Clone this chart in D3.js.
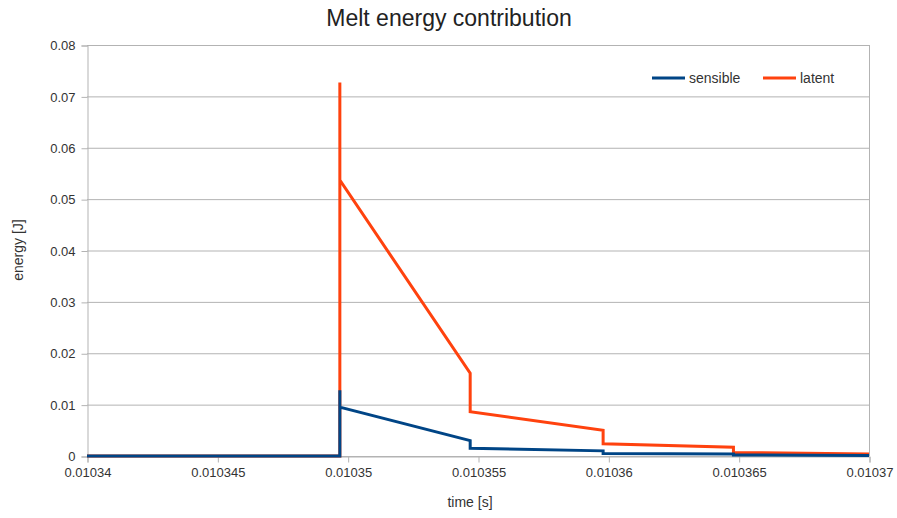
<!DOCTYPE html>
<html>
<head>
<meta charset="utf-8">
<script src="https://cdn.jsdelivr.net/npm/d3@7"></script>
<style>
  body { margin: 0; background: #fff; }
  svg { display: block; font-family: "Liberation Sans", Arial, sans-serif; }
</style>
</head>
<body>
<svg id="chart" width="897" height="518"></svg>
<script>
// Time samples (s); repeated times mark the step drops
const times = [0.01034, 0.0103497, 0.0103497, 0.0103497, 0.0103547, 0.0103547, 0.0103598, 0.0103598, 0.0103648, 0.0103648, 0.01037];
// Energy series (J)
const latent   = [0, 0, 0.0727, 0.0537, 0.0161, 0.0086, 0.0050, 0.0024, 0.0017, 0.0007, 0.0004];
const sensible = [0, 0, 0.0128, 0.0095, 0.0030, 0.0015, 0.0010, 0.0005, 0.0004, 0.0002, 0.0001];
// Axis ticks
const xTicks = [0.01034, 0.010345, 0.01035, 0.010355, 0.01036, 0.010365, 0.01037];
const yTicks = [0, 0.01, 0.02, 0.03, 0.04, 0.05, 0.06, 0.07, 0.08];
const seriesNames = ["sensible", "latent"];
const seriesColors = ["#004586", "#ff420e"];

const svg = d3.select("#chart");
const margin = { left: 87, right: 28, top: 45, bottom: 62 };
const W = 897, H = 518;

const x = d3.scaleLinear().domain([0.01034, 0.01037]).range([margin.left, W - margin.right]);
const y = d3.scaleLinear().domain([0, 0.08]).range([H - margin.bottom, margin.top]);

const grid = "#b3b3b3";
const textCol = "#333";

// Horizontal gridlines
svg.append("g").selectAll("line").data(yTicks).join("line")
  .attr("x1", x.range()[0]).attr("x2", x.range()[1])
  .attr("y1", d => y(d) + 0.5).attr("y2", d => y(d) + 0.5)
  .attr("stroke", grid).attr("stroke-width", 1);

// Right border
svg.append("line")
  .attr("x1", x.range()[1] + 0.5).attr("x2", x.range()[1] + 0.5)
  .attr("y1", y(0.08)).attr("y2", y(0))
  .attr("stroke", grid);

// Y axis
const yAxis = d3.axisLeft(y).tickValues(yTicks).tickSize(6).tickPadding(6)
  .tickFormat(d => d === 0 ? "0" : d3.format(".2f")(d));
const gy = svg.append("g").attr("transform", `translate(${margin.left + 0.5},0.5)`).call(yAxis);
gy.select(".domain").attr("stroke", grid);
gy.selectAll(".tick line").attr("stroke", grid);
gy.selectAll(".tick text").attr("fill", textCol).style("font-size", "13px")
  .style("font-family", "'Liberation Sans', Arial, sans-serif");

// X axis
const xAxis = d3.axisBottom(x).tickValues(xTicks).tickSize(6).tickPadding(5)
  .tickFormat(d => String(+d.toPrecision(6)));
const gx = svg.append("g").attr("transform", `translate(0.5,${y(0) + 0.5})`).call(xAxis);
gx.select(".domain").attr("stroke", grid);
gx.selectAll(".tick line").attr("stroke", grid);
gx.selectAll(".tick text").attr("fill", textCol).style("font-size", "13px")
  .style("font-family", "'Liberation Sans', Arial, sans-serif");

// Series lines (latent underneath, sensible on top)
const line = d3.line().x(d => x(d[0])).y(d => y(d[1]));
const data = {
  sensible: times.map((t, i) => [t, sensible[i]]),
  latent: times.map((t, i) => [t, latent[i]])
};
["latent", "sensible"].forEach(name => {
  svg.append("path")
    .datum(data[name])
    .attr("d", line)
    .attr("fill", "none")
    .attr("stroke", seriesColors[seriesNames.indexOf(name)])
    .attr("stroke-width", 3)
    .attr("stroke-linejoin", "miter");
});

// Title
svg.append("text").attr("x", 449).attr("y", 26).attr("text-anchor", "middle")
  .attr("fill", "#222").style("font-size", "23px").text("Melt energy contribution");

// Axis titles
svg.append("text").attr("x", 470).attr("y", 507).attr("text-anchor", "middle")
  .attr("fill", textCol).style("font-size", "14px").text("time [s]");
svg.append("text").attr("transform", "translate(23,250) rotate(-90)").attr("text-anchor", "middle")
  .attr("fill", textCol).style("font-size", "14px").text("energy [J]");

// Legend
const legendX = [652, 763];
seriesNames.forEach((name, i) => {
  const g = svg.append("g").attr("transform", `translate(${legendX[i]},78)`);
  g.append("line").attr("x1", 0).attr("x2", 33).attr("y1", 0).attr("y2", 0)
    .attr("stroke", seriesColors[i]).attr("stroke-width", 3);
  g.append("text").attr("x", 37).attr("y", 5).attr("fill", textCol)
    .style("font-size", "14px").text(name);
});
</script>
</body>
</html>
